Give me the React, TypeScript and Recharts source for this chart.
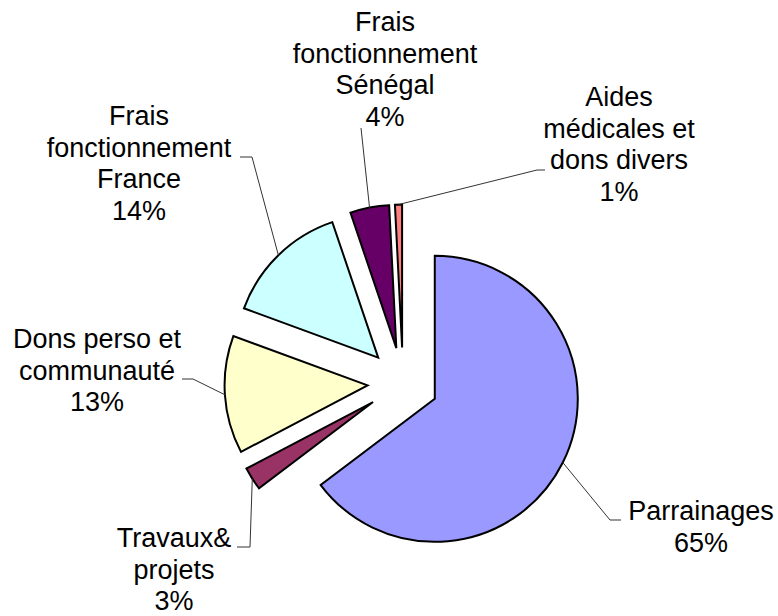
import React from 'react';
import { PieChart, Pie, Cell } from 'recharts';

const categories = [
  'Parrainages',
  'Travaux&\nprojets',
  'Dons perso et\ncommunauté',
  'Frais\nfonctionnement\nFrance',
  'Frais\nfonctionnement\nSénégal',
  'Aides\nmédicales et\ndons divers',
];
const shares = [64.7, 2.6, 13.3, 14.2, 4.4, 0.8];
const colors = ['#9999ff', '#993366', '#ffffcc', '#ccffff', '#660066', '#ff8080'];

const data = categories.map((name, i) => ({ name, value: shares[i] }));
const total = shares.reduce((a, b) => a + b, 0);

// where each label sits: text centre x, first baseline y, leader elbow and end
const labelPos = [
  { x: 701, y: 520, ex: 610, ey: 520, tx: 621 },
  { x: 174, y: 547, ex: 250, ey: 547, tx: 237 },
  { x: 97, y: 348, ex: 193, ey: 379, tx: 182 },
  { x: 139, y: 125, ex: 252, ey: 157, tx: 240 },
  { x: 385, y: 31, ex: 361, ey: 128, tx: 361 },
  { x: 619, y: 106, ex: 537, ey: 170, tx: 545 },
];

const CX = 403;
const CY = 383;
const R = 143;
const EXPLODE = 35.5;
const RAD = Math.PI / 180;
const LINE_H = 31.5;

// mid angle of each slice, recharts degrees
const midAngles = shares.map((v, i) => {
  const before = shares.slice(0, i).reduce((a, b) => a + b, 0);
  return 90 - ((before + v / 2) / total) * 360;
});

function renderLabel(p: any, k: number) {
  if (p.index !== k) return null;
  const a = -p.midAngle * RAD;
  const sx = p.cx + p.outerRadius * Math.cos(a);
  const sy = p.cy + p.outerRadius * Math.sin(a);
  const pos = labelPos[k];
  const lines = [...categories[k].split('\n'), `${Math.round((shares[k] / total) * 100)}%`];
  return (
    <g>
      <polyline
        points={`${sx},${sy} ${pos.ex},${pos.ey} ${pos.tx},${pos.ey}`}
        fill="none"
        stroke="#333"
        strokeWidth={1}
      />
      <text
        x={pos.x}
        y={pos.y}
        textAnchor="middle"
        fontSize={27}
        fontFamily="'Liberation Sans', Arial, sans-serif"
        fill="#000"
      >
        {lines.map((l, i) => (
          <tspan key={i} x={pos.x} y={pos.y + i * LINE_H}>
            {l}
          </tspan>
        ))}
      </text>
    </g>
  );
}

export default function App() {
  return (
    <div style={{ position: 'absolute', left: 0, top: 0, width: 778, height: 616, background: '#fff' }}>
      <PieChart width={778} height={616} margin={{ top: 0, right: 0, bottom: 0, left: 0 }}>
        {data.map((_, k) => (
          <Pie
            key={k}
            data={data}
            dataKey="value"
            nameKey="name"
            cx={CX + EXPLODE * Math.cos(midAngles[k] * RAD)}
            cy={CY - EXPLODE * Math.sin(midAngles[k] * RAD)}
            innerRadius={0}
            outerRadius={R}
            startAngle={90}
            endAngle={-270}
            isAnimationActive={false}
            labelLine={false}
            label={(p: any) => renderLabel(p, k)}
          >
            {data.map((_, i) => (
              <Cell
                key={i}
                fill={i === k ? colors[i] : 'none'}
                stroke={i === k ? '#000' : 'none'}
                strokeWidth={2}
              />
            ))}
          </Pie>
        ))}
      </PieChart>
    </div>
  );
}
